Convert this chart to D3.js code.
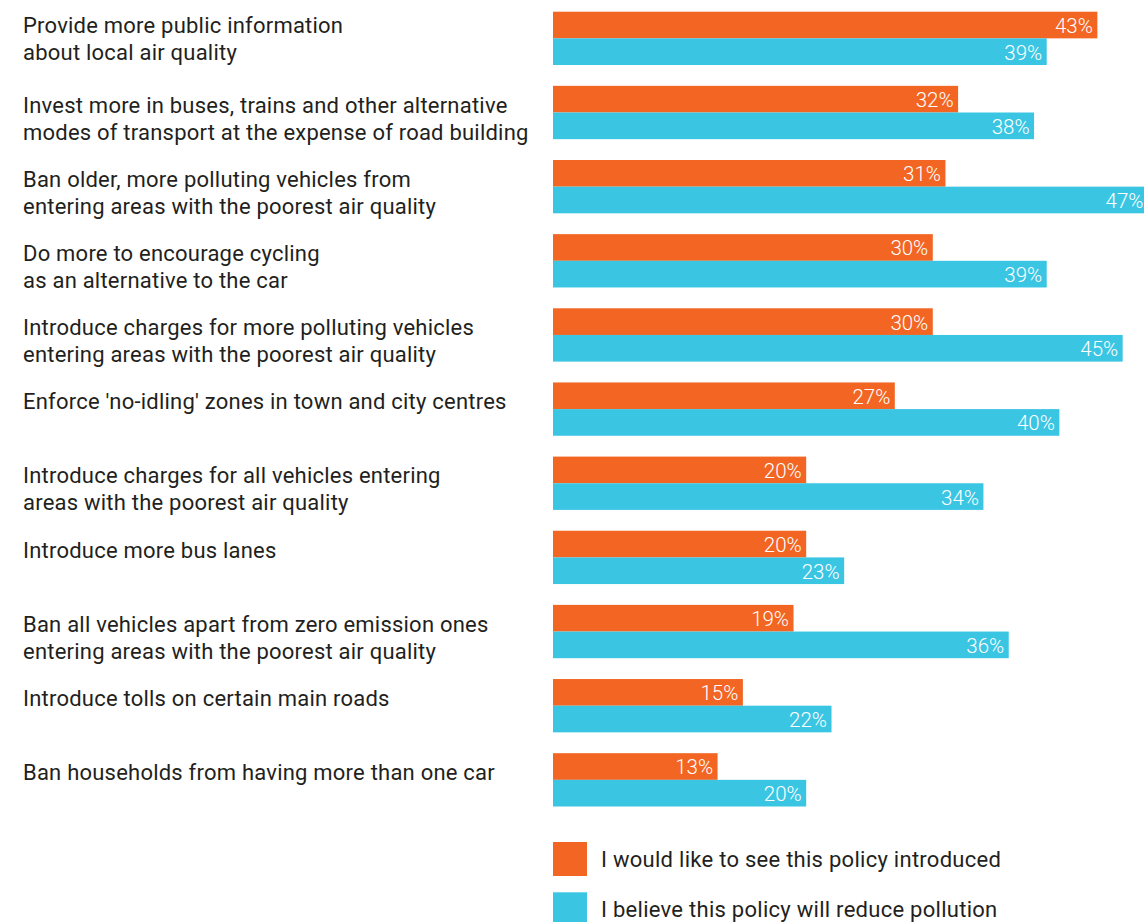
<!DOCTYPE html>
<html>
<head>
<meta charset="utf-8">
<script src="https://cdn.jsdelivr.net/npm/d3@7"></script>
<style>
  body { margin: 0; background: #fff; }
  svg text { font-family: Roboto, sans-serif; }
</style>
</head>
<body>
<div id="chart"></div>
<script>
// policies, top to bottom (label lines)
const policies = [
    ['Provide more public information', 'about local air quality'],
    ['Invest more in buses, trains and other alternative', 'modes of transport at the expense of road building'],
    ['Ban older, more polluting vehicles from', 'entering areas with the poorest air quality'],
    ['Do more to encourage cycling', 'as an alternative to the car'],
    ['Introduce charges for more polluting vehicles', 'entering areas with the poorest air quality'],
    ["Enforce 'no-idling' zones in town and city centres"],
    ['Introduce charges for all vehicles entering', 'areas with the poorest air quality'],
    ['Introduce more bus lanes'],
    ['Ban all vehicles apart from zero emission ones', 'entering areas with the poorest air quality'],
    ['Introduce tolls on certain main roads'],
    ['Ban households from having more than one car']
];
const likeValues = [43, 32, 31, 30, 30, 27, 20, 20, 19, 15, 13];
const believeValues = [39, 38, 47, 39, 45, 40, 34, 23, 36, 22, 20];
const seriesNames = ['I would like to see this policy introduced', 'I believe this policy will reduce pollution'];
const seriesColors = ['#f26522', '#3ac5e3'];

const width = 1144;
const height = 922;

const svg = d3.select('#chart').append('svg')
    .attr('width', width)
    .attr('height', height);

const rows = policies.map((p, i) => ({
    label: p,
    values: [likeValues[i], believeValues[i]]
}));

const x = d3.scaleLinear()
    .domain([0, 47])
    .range([553, 1148]);

const y = d3.scaleBand()
    .domain(d3.range(rows.length))
    .range([11.7, 806.5])
    .paddingInner(0.281)
    .paddingOuter(0);

const ySeries = d3.scaleBand()
    .domain([0, 1])
    .range([0, y.bandwidth()]);

const group = svg.selectAll('.row')
    .data(rows)
    .enter()
    .append('g')
    .attr('class', 'row')
    .attr('transform', (d, i) => `translate(0,${y(i)})`);

// labels on the left
group.append('text')
    .attr('x', 23)
    .attr('y', (d, i) => i === 0 ? 21.5 : 26.8)
    .attr('font-size', 22)
    .attr('letter-spacing', 0.22)
    .attr('fill', '#231f20')
    .selectAll('tspan')
    .data((d) => d.label)
    .enter()
    .append('tspan')
    .attr('x', 23)
    .attr('dy', (d, i) => i === 0 ? 0 : 27)
    .text((d) => d);

// bars
const bars = group.selectAll('.bar')
    .data((d) => d.values.map((v, k) => ({ v, k })))
    .enter()
    .append('g')
    .attr('class', 'bar');

bars.append('rect')
    .attr('x', x(0))
    .attr('y', (d) => ySeries(d.k))
    .attr('width', (d) => x(d.v) - x(0))
    .attr('height', ySeries.bandwidth())
    .attr('fill', (d) => seriesColors[d.k]);

bars.append('text')
    .attr('x', (d) => x(d.v) - 4.5)
    .attr('y', (d) => ySeries(d.k) + 21.3)
    .attr('text-anchor', 'end')
    .attr('font-size', 20.5)
    .attr('font-weight', 300)
    .attr('fill', '#fff')
    .text((d) => d.v + '%');

// legend
const legend = svg.append('g')
    .attr('transform', 'translate(553,842)');

const legendItem = legend.selectAll('.item')
    .data(seriesNames)
    .enter()
    .append('g')
    .attr('class', 'item')
    .attr('transform', (d, i) => `translate(0,${i * 50.3})`);

legendItem.append('rect')
    .attr('width', 34)
    .attr('height', 34)
    .attr('fill', (d, i) => seriesColors[i]);

legendItem.append('text')
    .attr('x', 48)
    .attr('y', 24.8)
    .attr('font-size', 22)
    .attr('letter-spacing', 0.27)
    .attr('fill', '#231f20')
    .text((d) => d);
</script>
</body>
</html>
